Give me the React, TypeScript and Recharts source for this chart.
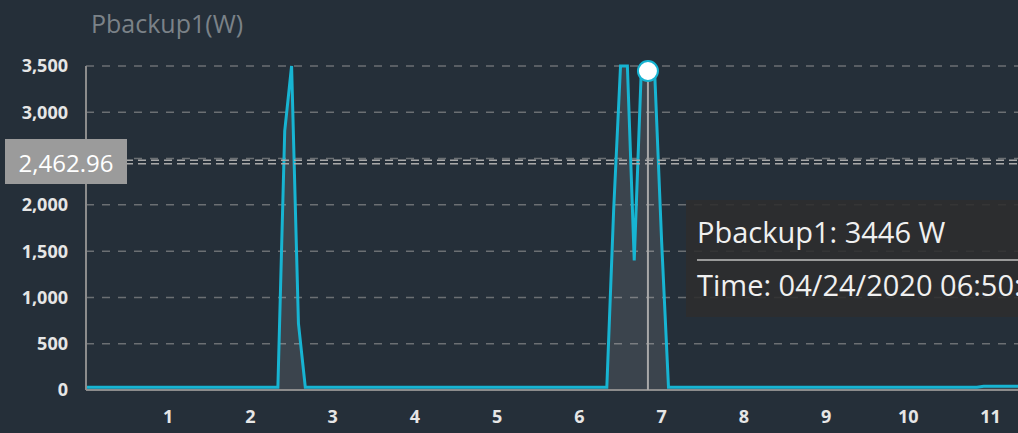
import React from 'react';
import { AreaChart, Area, XAxis, YAxis, CartesianGrid, Tooltip, ReferenceLine } from 'recharts';

const TITLE = 'Pbackup1(W)';
const SERIES_NAME = 'Pbackup1';
const UNIT = 'W';
const DATE_LABEL = '04/24/2020';
const STEP_MINUTES = 5;

// one value every 5 minutes, starting at 00:00
const VALUES = [
  30, 30, 30, 30, 30, 30, 30, 30, 30, 30, 30, 30,
  30, 30, 30, 30, 30, 30, 30, 30, 30, 30, 30, 30,
  30, 30, 30, 30, 30, 2800, 3500, 720, 30, 30, 30, 30,
  30, 30, 30, 30, 30, 30, 30, 30, 30, 30, 30, 30,
  30, 30, 30, 30, 30, 30, 30, 30, 30, 30, 30, 30,
  30, 30, 30, 30, 30, 30, 30, 30, 30, 30, 30, 30,
  30, 30, 30, 30, 30, 1950, 3500, 3500, 1400, 3400, 3446, 3400,
  1600, 30, 30, 30, 30, 30, 30, 30, 30, 30, 30, 30,
  30, 30, 30, 30, 30, 30, 30, 30, 30, 30, 30, 30,
  30, 30, 30, 30, 30, 30, 30, 30, 30, 30, 30, 30,
  30, 30, 30, 30, 30, 30, 30, 30, 30, 30, 30, 40,
  40, 40, 40, 40, 40,
];

const X_TICKS = [1, 2, 3, 4, 5, 6, 7, 8, 9, 10, 11];
const Y_TICKS = [0, 500, 1000, 1500, 2000, 2500, 3000, 3500];
const REF_VALUE = 2462.96;
const ACTIVE_INDEX = 82;

const data = VALUES.map((v, i) => ({
  hour: (i * STEP_MINUTES) / 60,
  minutes: i * STEP_MINUTES,
  value: v,
}));

const FONT = '"Open Sans", "Noto Sans", sans-serif';
const BG = '#252f39';
const LINE = '#17b4d2';

const pad = (n: number) => String(n).padStart(2, '0');

const TipContent = (props: any) => {
  const { active, payload } = props;
  if (!active || !payload || !payload.length) return null;
  const p = payload[0].payload;
  const time = `${pad(Math.floor(p.minutes / 60))}:${pad(p.minutes % 60)}:00`;
  return (
    <div
      style={{
        background: 'rgba(46,46,46,0.88)',
        padding: '14px 11px 14px 11px',
        color: '#f0f0f0',
        fontFamily: FONT,
        fontSize: 29,
        whiteSpace: 'nowrap',
        width: 430,
      }}
    >
      <div style={{ lineHeight: '36px', paddingBottom: 9, borderBottom: '2px solid #9a9a9a' }}>
        {SERIES_NAME}: {p.value} {UNIT}
      </div>
      <div style={{ lineHeight: '36px', marginTop: 6 }}>
        Time: {DATE_LABEL} {time}
      </div>
    </div>
  );
};

const RefShape = (props: any) => {
  const { x1, y1, x2, y2 } = props;
  return (
    <g>
      <line x1={x1} y1={y1 - 1.7} x2={x2} y2={y2 - 1.7} stroke="#a9a9a9" strokeWidth={1.5} strokeDasharray="8 5" />
      <line x1={x1} y1={y1 + 1.7} x2={x2} y2={y2 + 1.7} stroke="#a9a9a9" strokeWidth={1.5} strokeDasharray="8 5" />
    </g>
  );
};

const RefLabel = (props: any) => {
  const vb = props.viewBox || {};
  const cy = vb.y;
  return (
    <g>
      <rect x={5} y={cy - 23} width={122} height={45} fill="#9b9b9b" />
      <text x={66} y={cy} textAnchor="middle" dominantBaseline="central" fill="#ffffff" fontSize={24} fontFamily={FONT}>
        {REF_VALUE.toLocaleString('en-US', { minimumFractionDigits: 2, maximumFractionDigits: 2 })}
      </text>
    </g>
  );
};

export default function App() {
  return (
    <div style={{ position: 'fixed', left: 0, top: 0, width: 1018, height: 433, background: BG, overflow: 'hidden' }}>
      <div
        style={{
          position: 'absolute',
          left: 91,
          top: 7,
          fontFamily: FONT,
          fontSize: 25,
          lineHeight: '32px',
          color: '#7b8288',
          zIndex: 2,
        }}
      >
        {TITLE}
      </div>
      <AreaChart width={1018} height={433} data={data} margin={{ top: 66, right: 0, left: 0, bottom: 13 }}>
        <CartesianGrid horizontal vertical={false} stroke="#6b6f73" strokeDasharray="8 8" strokeWidth={1.5} />
        <XAxis
          type="number"
          dataKey="hour"
          domain={[0, 136 / 12]}
          ticks={X_TICKS}
          height={30}
          tickLine={false}
          tickSize={0}
          tickMargin={20}
          stroke="#8c8c8c"
          strokeWidth={2}
          tick={{ fill: '#e6e6e6', fontSize: 18, fontWeight: 700, fontFamily: FONT }}
        />
        <YAxis
          type="number"
          domain={[0, 3500]}
          ticks={Y_TICKS}
          width={86}
          tickLine={false}
          tickSize={0}
          tickMargin={18}
          stroke="#8c8c8c"
          strokeWidth={2}
          tickFormatter={(v: number) => v.toLocaleString('en-US')}
          tick={{ fill: '#e6e6e6', fontSize: 18, fontWeight: 700, fontFamily: FONT }}
        />
        <Tooltip
          content={<TipContent />}
          defaultIndex={ACTIVE_INDEX}
          position={{ x: 686, y: 200 }}
          allowEscapeViewBox={{ x: true, y: true }}
          cursor={{ stroke: '#a8a8a8', strokeWidth: 2 }}
          isAnimationActive={false}
          wrapperStyle={{ outline: 'none' }}
        />
        <Area
          type="linear"
          dataKey="value"
          stroke={LINE}
          strokeWidth={3}
          fill="rgba(255,255,255,0.1)"
          fillOpacity={1}
          dot={false}
          activeDot={{ r: 10, fill: '#ffffff', stroke: LINE, strokeWidth: 2 }}
          isAnimationActive={false}
        />
        <ReferenceLine
          y={REF_VALUE}
          shape={RefShape}
          label={RefLabel}
          ifOverflow="extendDomain"
          {...({ zIndex: 2000 } as any)}
        />
      </AreaChart>
    </div>
  );
}
